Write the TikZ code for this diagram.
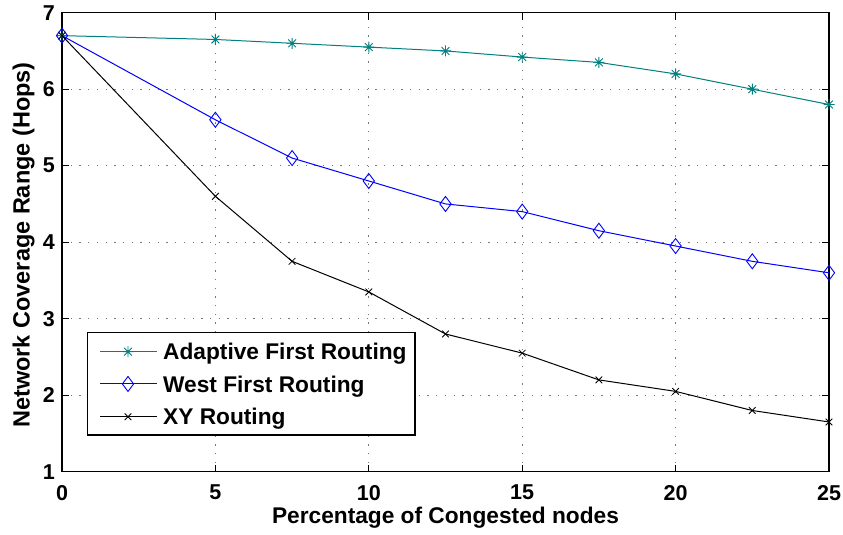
\documentclass[tikz,border=0pt]{standalone}
\usepackage{fontspec}
\setmainfont{Liberation Sans}
\usetikzlibrary{plotmarks}

\definecolor{adaptive}{RGB}{0,128,128}
\definecolor{westc}{RGB}{0,0,255}
\definecolor{gridc}{RGB}{120,120,120}

% eight-spoke asterisk (plus and cross together)
\pgfdeclareplotmark{starEight}{%
  \pgfpathmoveto{\pgfpointpolar{90}{\pgfplotmarksize}}\pgfpathlineto{\pgfpointpolar{270}{\pgfplotmarksize}}%
  \pgfpathmoveto{\pgfpointpolar{0}{\pgfplotmarksize}}\pgfpathlineto{\pgfpointpolar{180}{\pgfplotmarksize}}%
  \pgfpathmoveto{\pgfpointpolar{45}{\pgfplotmarksize}}\pgfpathlineto{\pgfpointpolar{225}{\pgfplotmarksize}}%
  \pgfpathmoveto{\pgfpointpolar{135}{\pgfplotmarksize}}\pgfpathlineto{\pgfpointpolar{315}{\pgfplotmarksize}}%
  \pgfusepathqstroke}

\tikzset{
  ticklabel/.style={font=\fontsize{21.5}{22}\selectfont\bfseries, inner sep=0pt},
  axislabel/.style={font=\fontsize{22.7}{23}\selectfont\bfseries, inner sep=0pt},
  legendlabel/.style={font=\fontsize{22.7}{23}\selectfont\bfseries, inner sep=0pt, anchor=base west},
  gridline/.style={gridc, line width=0.9pt, dash pattern=on 1.3pt off 7.4pt},
  axisline/.style={black, line width=1.5pt},
  tickline/.style={black, line width=1.1pt},
  adaptiveline/.style={adaptive, line width=1pt, mark=starEight, mark size=5.5pt, mark options={solid, line width=0.9pt}},
  westline/.style={westc, line width=1pt, mark=diamond, mark size=7.5pt, mark options={solid, line width=0.9pt}},
  xyline/.style={black, line width=1pt, mark=x, mark size=4.7pt, mark options={solid, line width=0.8pt}},
}

\begin{document}
\begin{tikzpicture}[x=1pt, y=1pt]
\useasboundingbox (0,0) rectangle (843,535);
\fill[white] (0,0) rectangle (843,535);

\begin{scope}[shift={(62pt,63.3pt)}, x=30.68pt, y=76.5pt]
  % grid
  \foreach \gx in {5,10,15,20} \draw[gridline] (\gx,0) -- (\gx,6);
  \foreach \gy in {2,...,6} \draw[gridline] (0,\gy-1) -- (25,\gy-1);

  % ticks
  \foreach \gx in {5,10,15,20} {
    \draw[tickline] (\gx,0) -- ++(0,7pt);
    \draw[tickline] (\gx,6) -- ++(0,-7pt);
  }
  \foreach \gy in {2,...,6} {
    \draw[tickline] (0,\gy-1) -- ++(7pt,0);
    \draw[tickline] (25,\gy-1) -- ++(-7pt,0);
  }

  % axes box
  \draw[axisline] (0,0) rectangle (25,6);

  % tick labels
  \foreach \gx in {0,5,...,25}
    \node[ticklabel, anchor=north] (xt\gx) at ([yshift=-13.3pt]\gx,0) {\gx};
  \foreach \gy in {1,...,7}
    \node[ticklabel, anchor=east] (yt\gy) at ([xshift=-7pt]0,\gy-1) {\gy};

  % data series
  \draw[adaptiveline] plot coordinates {(0,5.70) (5,5.65) (7.5,5.60) (10,5.55) (12.5,5.50) (15,5.42) (17.5,5.35) (20,5.20) (22.5,5.00) (25,4.80)};
  \draw[westline] plot coordinates {(0,5.70) (5,4.60) (7.5,4.10) (10,3.80) (12.5,3.50) (15,3.40) (17.5,3.15) (20,2.95) (22.5,2.75) (25,2.60)};
  \draw[xyline] plot coordinates {(0,5.70) (5,3.60) (7.5,2.75) (10,2.35) (12.5,1.80) (15,1.55) (17.5,1.20) (20,1.05) (22.5,0.80) (25,0.65)};
\end{scope}

% axis titles
\node[axislabel, anchor=base] (xlabel) at (445.5,11) {Percentage of Congested nodes};
\node[axislabel, anchor=base, rotate=90, font=\fontsize{23.5}{24}\selectfont\bfseries] (ylabel) at (29.5,290) {Network Coverage Range (Hops)};

% legend
\draw[black, line width=1.5pt, fill=white] (87.7,100) rectangle (415,202.7);
\coordinate (la1) at (100,183.3); \coordinate (lb1) at (157,183.3);
\coordinate (la2) at (100,151);   \coordinate (lb2) at (157,151);
\coordinate (la3) at (100,118.3); \coordinate (lb3) at (157,118.3);
\draw[adaptive, line width=1pt] (la1) -- (lb1);
\draw[westc, line width=1pt] (la2) -- (lb2);
\draw[black, line width=1pt] (la3) -- (lb3);
\draw[adaptiveline] plot coordinates {(128,183.3)};
\draw[westline] plot coordinates {(128,151)};
\draw[xyline] plot coordinates {(128,118.3)};
\node[legendlabel] (lt1) at (163,175) {Adaptive First Routing};
\node[legendlabel] (lt2) at (163,142.7) {West First Routing};
\node[legendlabel] (lt3) at (163,110) {XY Routing};
\end{tikzpicture}
\end{document}
